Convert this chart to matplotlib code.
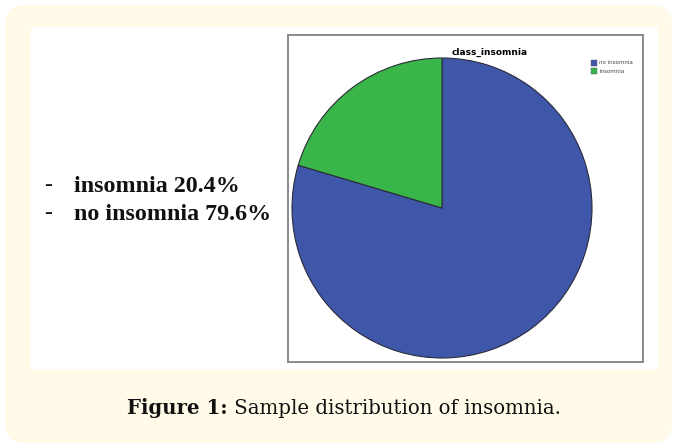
import matplotlib.pyplot as plt
from matplotlib.patches import FancyBboxPatch, Rectangle

labels = ['no insomnia', 'insomnia']
values = [79.6, 20.4]
colors = ['#3f57a9', '#39b54a']
title = 'class_insomnia'
caption_bold = 'Figure 1:'
caption_text = ' Sample distribution of insomnia.'

W, H = 677, 448
fig = plt.figure(figsize=(W / 100, H / 100), dpi=100)
fig.patch.set_facecolor('white')

# background axes in pixel units (y down)
bg = fig.add_axes([0, 0, 1, 1])
bg.set_xlim(0, W)
bg.set_ylim(H, 0)
bg.axis('off')
bg.add_patch(FancyBboxPatch((5 + 20, 5 + 20), W - 10 - 40, H - 10 - 40,
                            boxstyle='round,pad=20', fc='#fffbe8', ec='none'))
bg.add_patch(Rectangle((31, 27), 627, 342, fc='white', ec='none'))
bg.add_patch(Rectangle((288, 35), 355, 327, fc='white', ec='#8a8a8a', lw=1.4))
bg.text(490, 52, title, ha='center', va='center', fontsize=6.5,
        fontweight='bold', family='DejaVu Sans')

# legend
for i, (lab, col) in enumerate(zip(labels, colors)):
    y = 63 + i * 8.5
    bg.add_patch(Rectangle((591, y - 3), 6, 6, fc=col, ec='#555555', lw=0.3))
    bg.text(599, y, lab, ha='left', va='center', fontsize=4, color='#444444')

# left text
items = [(labels[1], values[1]), (labels[0], values[0])]
for i, (lab, v) in enumerate(items):
    y = 186 + i * 28
    bg.text(44, y, '-', ha='left', va='center', fontsize=17,
            family='Liberation Serif', color='#111111')
    bg.text(74, y, f'{lab} {v:.1f}%', ha='left', va='center', fontsize=17.3,
            family='Liberation Serif', fontweight='bold', color='#111111')

# caption
t1 = bg.text(127, 408, caption_bold, ha='left', va='center', fontsize=14.2,
             family='DejaVu Serif', fontweight='bold', color='#111111')
fig.canvas.draw()
bb = t1.get_window_extent()
x2 = bb.x1
bg.annotate(caption_text, xy=(x2, H - 408), xycoords='figure pixels',
            ha='left', va='center', fontsize=14.2, family='DejaVu Serif',
            color='#111111')

# pie
cx, cy, r = 442, 208, 150
ax = fig.add_axes([(cx - r) / W, (H - cy - r) / H, 2 * r / W, 2 * r / H])
ax.pie(values, colors=colors, startangle=90, counterclock=False,
       wedgeprops=dict(edgecolor='#2a2a3a', linewidth=0.8))
ax.set_xlim(-1, 1)
ax.set_ylim(-1, 1)
ax.axis('off')

fig.savefig('out.png', dpi=100)
